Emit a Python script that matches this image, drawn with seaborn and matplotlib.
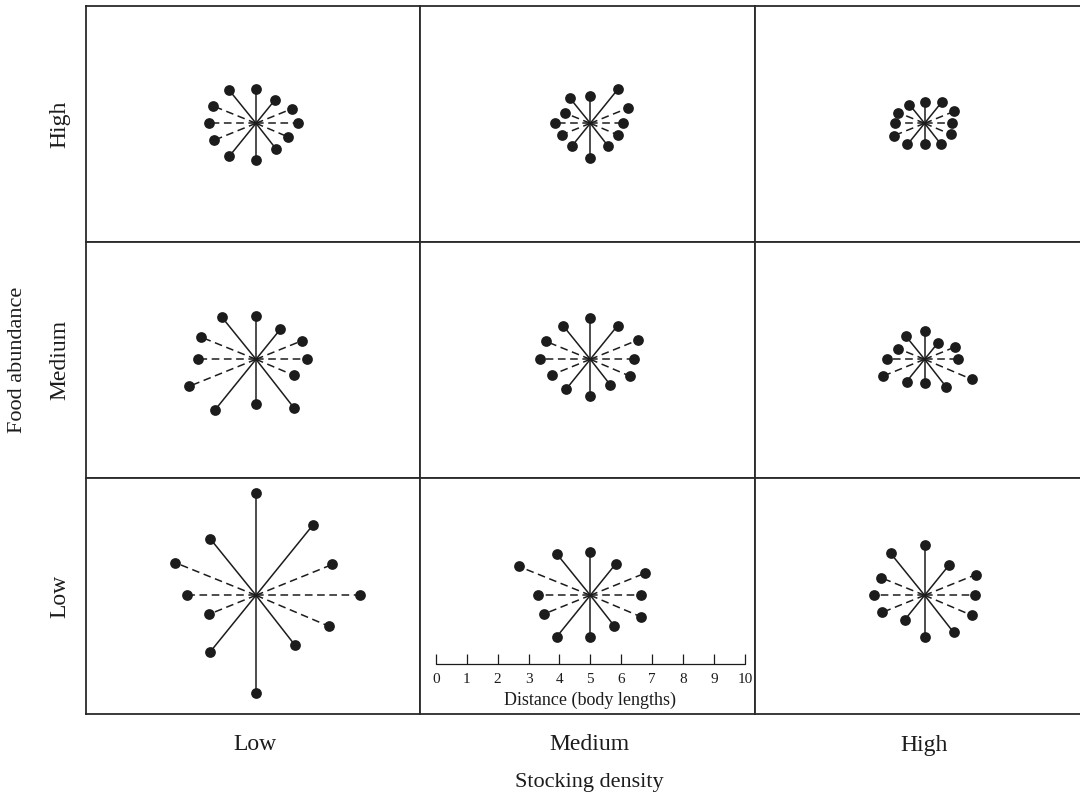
import numpy as np
import pandas as pd
import matplotlib
matplotlib.use("Agg")
import matplotlib.pyplot as plt
import seaborn as sns

sns.set_theme(style = "white")
plt.rcParams["font.family"] = ["Liberation Serif", "DejaVu Serif"]

# Spoke directions (degrees, 0 = right, counter-clockwise), shared by all panels.
angles = [90, 51, 22, 0, -23, -52, -90, -129, -158, 180, 158, 129]
dashed = [False, False, True, True, True, False, False, False, True, True, True, False]

density_levels = ["Low", "Medium", "High"]
food_levels = ["High", "Medium", "Low"]   # top row first

# Distance to neighbour in each direction (body lengths).
high_food_low_density = [1.11, 0.97, 1.27, 1.37, 1.13, 1.07, 1.19, 1.38, 1.45, 1.53, 1.49, 1.40]
high_food_med_density = [0.87, 1.41, 1.31, 1.05, 0.97, 0.92, 1.13, 0.93, 1.00, 1.13, 0.88, 1.04]
high_food_high_density = [0.68, 0.87, 1.02, 0.89, 0.92, 0.84, 0.68, 0.88, 1.08, 0.97, 0.93, 0.78]

med_food_low_density = [1.41, 1.25, 1.59, 1.66, 1.34, 1.98, 1.44, 2.10, 2.34, 1.89, 1.91, 1.77]
med_food_med_density = [1.33, 1.40, 1.67, 1.42, 1.39, 1.05, 1.19, 1.25, 1.32, 1.63, 1.54, 1.39]
med_food_high_density = [0.93, 0.67, 1.07, 1.08, 1.65, 1.12, 0.77, 0.93, 1.46, 1.23, 0.92, 0.96]

low_food_low_density = [3.32, 2.91, 2.67, 3.36, 2.58, 2.05, 3.15, 2.38, 1.63, 2.24, 2.81, 2.35]
low_food_med_density = [1.41, 1.32, 1.91, 1.65, 1.78, 1.26, 1.36, 1.73, 1.63, 1.68, 2.49, 1.73]
low_food_high_density = [1.62, 1.26, 1.78, 1.63, 1.66, 1.52, 1.35, 1.01, 1.47, 1.63, 1.52, 1.75]

panels = [
    [high_food_low_density, high_food_med_density, high_food_high_density],
    [med_food_low_density, med_food_med_density, med_food_high_density],
    [low_food_low_density, low_food_med_density, low_food_high_density],
]

scale_ticks = list(range(0, 11))

# Layout (pixels of a 1080x795 figure).
W, H = 1080, 795
left0, top0 = 86, 6
cell_w, cell_h = 334.3, 236
px_per_bl = 30.9
cx_off, cy_off = 170, 117.3   # star centre inside a cell

fig = plt.figure(figsize = (W / 100, H / 100), dpi = 100)

ink = "#1c1c1c"
for i, food in enumerate(food_levels):
    for j, dens in enumerate(density_levels):
        l = left0 + j * cell_w
        t = top0 + i * cell_h
        ax = fig.add_axes([l / W, 1 - (t + cell_h) / H, cell_w / W, cell_h / H])
        ax.set_xlim(-cx_off / px_per_bl, (cell_w - cx_off) / px_per_bl)
        ax.set_ylim(-(cell_h - cy_off) / px_per_bl, cy_off / px_per_bl)
        ax.set_xticks([])
        ax.set_yticks([])
        for s in ax.spines.values():
            s.set_color("#2a2a2a")
            s.set_linewidth(1.3)

        rad = np.deg2rad(angles)
        d = np.array(panels[i][j])
        cell = pd.DataFrame({"x": d * np.cos(rad), "y": d * np.sin(rad), "dashed": dashed})

        for _, row in cell.iterrows():
            ls = (0, (5, 3)) if row["dashed"] else "-"
            ax.plot([0, row["x"]], [0, row["y"]], color = ink, lw = 1.1, linestyle = ls, zorder = 2)
        sns.scatterplot(data = cell, x = "x", y = "y", s = 60, color = ink, linewidth = 0,
                        legend = False, ax = ax, zorder = 3)
        ax.set_xlabel("")
        ax.set_ylabel("")

        # Scale bar in the bottom-middle panel
        if food == "Low" and dens == "Medium":
            y0 = -2.21
            xs = [v - 5 for v in scale_ticks]
            ax.plot([xs[0], xs[-1]], [y0, y0], color = ink, lw = 0.9)
            ax.vlines(xs, y0, y0 + 0.32, color = ink, lw = 0.9)
            for v, x in zip(scale_ticks, xs):
                ax.text(x, -2.73, str(v), ha = "center", va = "center", fontsize = 11, color = ink)
            ax.text(0, -3.41, "Distance (body lengths)", ha = "center", va = "center",
                    fontsize = 13, color = ink)

# Row / column labels
row_y = [124, 360, 596]
for lab, y in zip(food_levels, row_y):
    fig.text(60 / W, 1 - y / H, lab, rotation = 90, ha = "center", va = "center", fontsize = 17, color = ink)
col_x = [255, 589, 924]
for lab, x in zip(density_levels, col_x):
    fig.text(x / W, 1 - 745 / H, lab, ha = "center", va = "center", fontsize = 17, color = ink)

fig.text(18 / W, 1 - 360 / H, "Food abundance", rotation = 90, ha = "center", va = "center",
         fontsize = 16, color = ink)
fig.text(589 / W, 1 - 783 / H, "Stocking density", ha = "center", va = "center", fontsize = 16, color = ink)

fig.savefig("out.png", dpi = 100)
